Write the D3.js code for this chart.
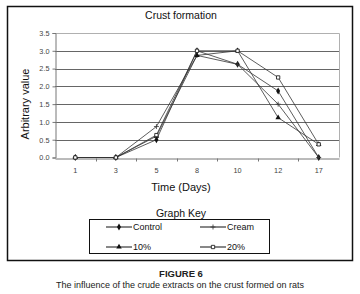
<!DOCTYPE html>
<html><head><meta charset="utf-8">
<script src="https://cdn.jsdelivr.net/npm/d3@7"></script>
<style>
html,body{margin:0;padding:0;background:#fff;}
svg{display:block;font-family:"Liberation Sans",Arial,sans-serif;}
</style></head>
<body>
<svg id="c" width="360" height="294"></svg>
<script>
const days = ["1","3","5","8","10","12","17"];
const control = [0, 0, 0.5, 3.0, 2.62, 1.87, 0];
const cream = [0, 0, 0.87, 2.87, 2.62, 1.5, 0];
const pct10 = [0, 0, 0.6, 2.87, 3.0, 1.12, 0.37];
const pct20 = [0, 0, 0.63, 3.0, 3.0, 2.25, 0.37];
const yTicks = [0, 0.5, 1.0, 1.5, 2.0, 2.5, 3.0, 3.5];
const seriesNames = ["Control", "Cream", "10%", "20%"];
const seriesValues = [control, cream, pct10, pct20];
const markers = ["diamond", "plus", "triangle", "square"];

const svg = d3.select("#c");
// outer frame
svg.append("rect").attr("x",7.5).attr("y",6.5).attr("width",345).attr("height",254)
  .attr("fill","none").attr("stroke","#111").attr("stroke-width",1.5);

const L=55, R=339, T=33, B=157.5;
const x = d3.scaleBand().domain(days).range([L,R]);
const y = d3.scaleLinear().domain([0,3.5]).range([B,T]);

// gridlines
svg.append("g").selectAll("line").data(yTicks.filter(d=>d>0 && d<3.5)).join("line")
  .attr("x1",L).attr("x2",R).attr("y1",d=>Math.round(y(d))+0.5).attr("y2",d=>Math.round(y(d))+0.5)
  .attr("stroke","#666").attr("stroke-width",1);
// plot border top/right
svg.append("path").attr("d",`M${L},${Math.round(y(3.5))+0.5}H${R+0.5}V${B}`)
  .attr("fill","none").attr("stroke","#b0b0b0").attr("stroke-width",1);

// y axis
const ya = svg.append("g").attr("transform",`translate(${L+0.5},0)`)
  .call(d3.axisLeft(y).tickValues(yTicks).tickFormat(d3.format(".1f")).tickSizeOuter(0).tickSize(3).tickPadding(3));
ya.select(".domain").attr("stroke","#777");
ya.selectAll(".tick line").attr("stroke","#777");
ya.selectAll("text").attr("font-size","7.3px").attr("fill","#444").attr("font-family","Liberation Sans, Arial, sans-serif");

// x axis
const xa = svg.append("g").attr("transform",`translate(0,${Math.round(B)+0.5})`)
  .call(d3.axisBottom(x).tickSizeOuter(0).tickSize(0).tickPadding(9));
xa.select(".domain").attr("stroke","#777");
xa.selectAll("text").attr("font-size","7.3px").attr("fill","#444").attr("font-family","Liberation Sans, Arial, sans-serif");
// boundary ticks
svg.append("g").selectAll("line").data(days.slice(1)).join("line")
  .attr("x1",d=>Math.round(x(d))+0.5).attr("x2",d=>Math.round(x(d))+0.5)
  .attr("y1",Math.round(B)+0.5).attr("y2",Math.round(B)+3.5).attr("stroke","#777");

// lines
const line = d3.line().x((d,i)=>x(days[i])+x.bandwidth()/2).y(d=>y(d));
const sym = {
  diamond: d3.symbol().type(d3.symbolDiamond).size(14),
  triangle: d3.symbol().type(d3.symbolTriangle).size(13),
  square: d3.symbol().type(d3.symbolSquare).size(11),
  plus: d3.symbol().type(d3.symbolCross).size(16)
};
function drawMarker(g, type, cx, cy){
  if(type==="plus"){
    g.append("path").attr("d",`M${cx-2.5},${cy}H${cx+2.5}M${cx},${cy-2.5}V${cy+2.5}`)
      .attr("stroke","#333").attr("stroke-width",0.8).attr("fill","none");
  } else if(type==="square"){
    g.append("path").attr("d",sym.square()).attr("transform",`translate(${cx},${cy})`)
      .attr("fill","#fff").attr("stroke","#222").attr("stroke-width",0.9);
  } else {
    g.append("path").attr("d",sym[type]()).attr("transform",`translate(${cx},${cy})`)
      .attr("fill","#111");
  }
}
seriesValues.forEach((vals,si)=>{
  const g = svg.append("g");
  g.append("path").datum(vals).attr("d",line).attr("fill","none")
    .attr("stroke","#333").attr("stroke-width",0.8);
  vals.forEach((v,i)=>drawMarker(g, markers[si], x(days[i])+x.bandwidth()/2, y(v)));
});

// titles
svg.append("text").attr("x",181).attr("y",19).attr("text-anchor","middle")
  .attr("font-size","10.5px").attr("fill","#111").text("Crust formation");
svg.append("text").attr("x",181).attr("y",191).attr("text-anchor","middle")
  .attr("font-size","11px").attr("fill","#111").text("Time (Days)");
svg.append("text").attr("transform","translate(29,104) rotate(-90)").attr("text-anchor","middle")
  .attr("font-size","11px").attr("fill","#111").text("Arbitrary value");

// legend
svg.append("text").attr("x",181).attr("y",217).attr("text-anchor","middle")
  .attr("font-size","10.5px").attr("fill","#111").text("Graph Key");
svg.append("rect").attr("x",89.5).attr("y",219.5).attr("width",180).attr("height",34)
  .attr("fill","none").attr("stroke","#111").attr("stroke-width",1);
const legPos = [[106,227],[200,227],[106,247],[200,247]];
seriesNames.forEach((n,i)=>{
  const [lx,ly]=legPos[i];
  const g = svg.append("g");
  g.append("line").attr("x1",lx).attr("x2",lx+26).attr("y1",ly).attr("y2",ly).attr("stroke","#111").attr("stroke-width",1);
  drawMarker(g, markers[i], lx+13, ly);
  g.append("text").attr("x",lx+27).attr("y",ly+3.2).attr("font-size","9px").attr("fill","#111").text(n);
});

// caption
svg.append("text").attr("x",181).attr("y",277).attr("text-anchor","middle")
  .attr("font-size","9.5px").attr("font-weight","bold").attr("fill","#222").text("FIGURE 6");
svg.append("text").attr("x",180).attr("y",288).attr("text-anchor","middle")
  .attr("font-size","9px").attr("fill","#222").text("The influence of the crude extracts on the crust formed on rats");
</script>
</body></html>
